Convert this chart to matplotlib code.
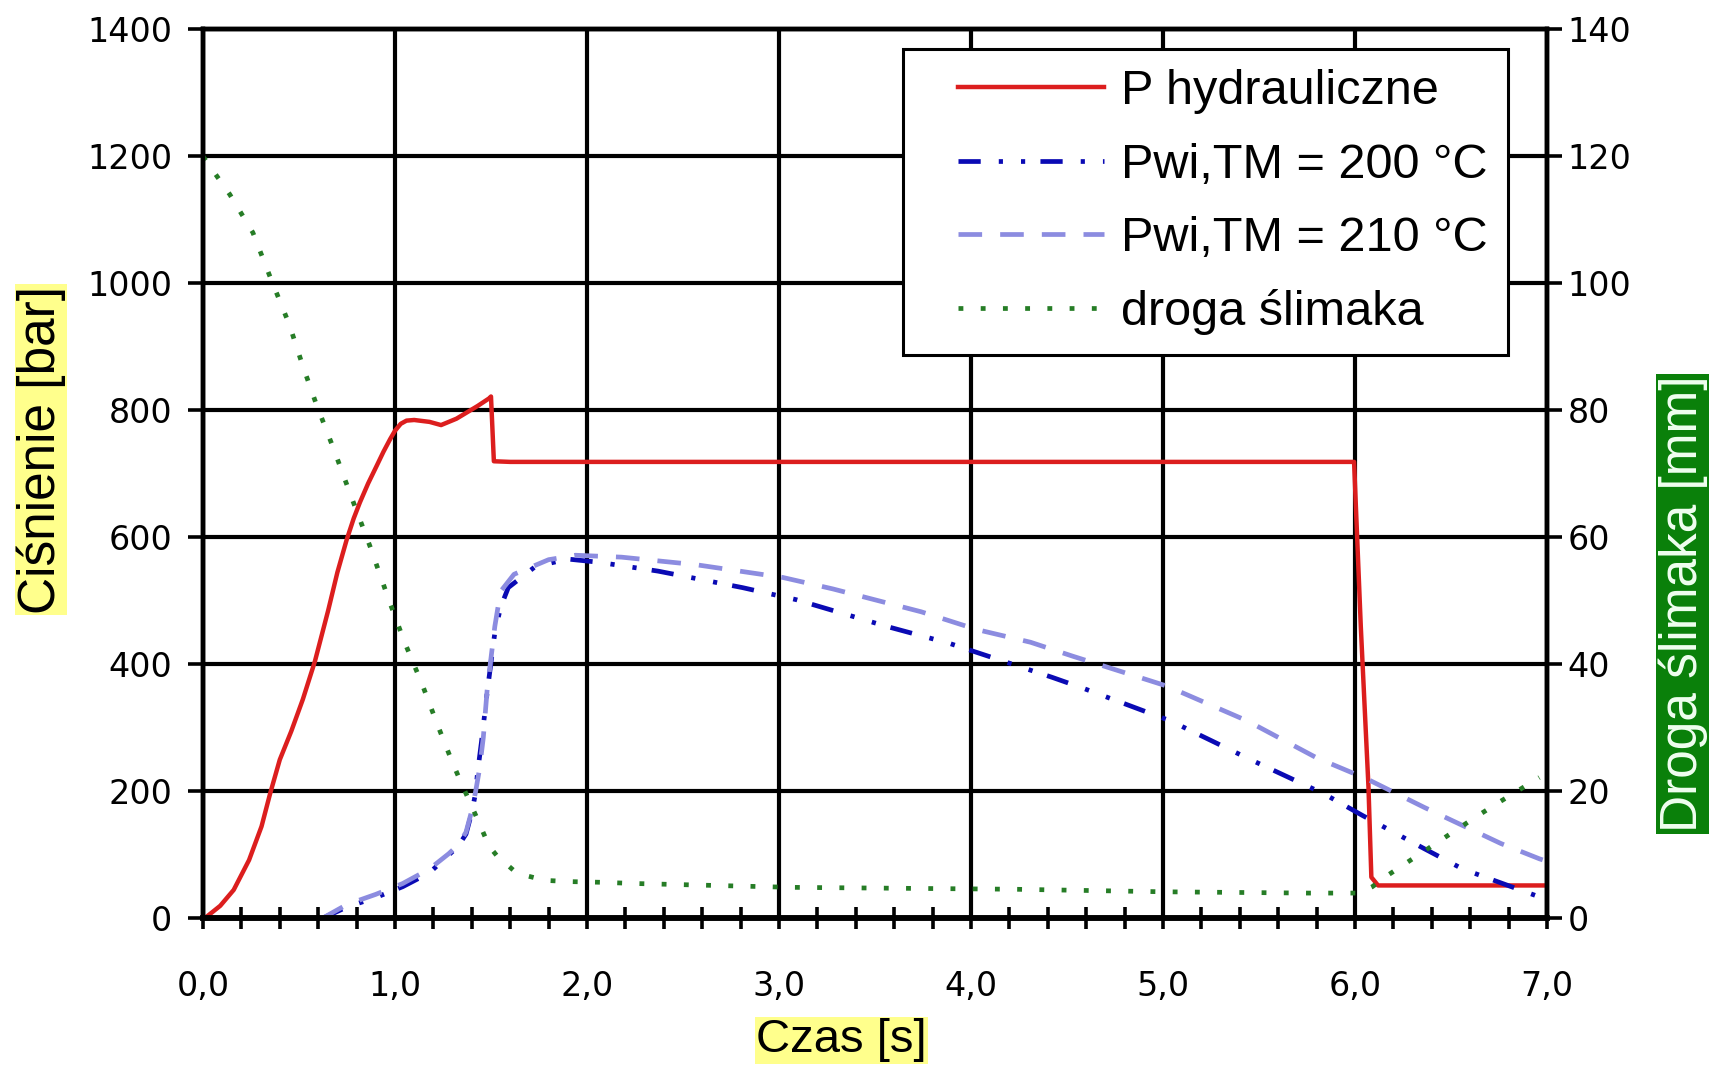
import numpy as np
import matplotlib.pyplot as plt
from matplotlib import font_manager
from matplotlib.lines import Line2D
from matplotlib.legend_handler import HandlerLine2D

# P hydrauliczne [bar]
t_hyd = [0.0, 0.02, 0.09, 0.16, 0.24, 0.305, 0.35, 0.40, 0.46, 0.52, 0.583, 0.652,
         0.70, 0.748, 0.785, 0.817, 0.86, 0.905, 0.94, 0.975, 1.0, 1.03, 1.06, 1.10,
         1.18, 1.24, 1.32, 1.43, 1.49, 1.50, 1.515, 1.60, 3.0, 5.0, 5.995, 6.03,
         6.07, 6.085, 6.12, 7.0]
p_hyd = [0, 3, 20, 45, 92, 145, 197, 250, 295, 345, 405, 485,
         545, 596, 630, 655, 685, 713, 735, 755, 768, 779, 784, 785,
         782, 777, 787, 807, 819, 822, 720, 719, 719, 719, 719, 460,
         207, 65, 52, 52]

# Pwi, TM = 200 C [bar]
t_200 = [0.62, 0.75, 0.90, 1.04, 1.18, 1.28, 1.33, 1.37, 1.40, 1.42, 1.43, 1.45,
         1.48, 1.50, 1.52, 1.55, 1.59, 1.73, 1.90, 2.06, 2.37, 2.81, 3.09, 3.56,
         3.89, 4.09, 4.42, 4.58, 5.04, 5.45, 5.84, 6.04, 6.36, 6.56, 6.96, 7.0]
p_200 = [0, 18, 33, 50, 72, 100, 114, 133, 167, 198, 230, 277,
         356, 403, 450, 490, 521, 554, 566, 561, 547, 521, 502, 460,
         433, 413, 380, 363, 311, 251, 196, 162, 110, 78, 34, 30]

# Pwi, TM = 210 C [bar]
t_210 = [0.62, 0.75, 0.90, 1.04, 1.18, 1.28, 1.33, 1.37, 1.40, 1.42, 1.44, 1.46,
         1.48, 1.50, 1.52, 1.55, 1.62, 1.80, 1.94, 2.18, 2.57, 3.02, 3.28, 3.74,
         4.03, 4.31, 4.53, 5.02, 5.44, 5.80, 6.06, 6.36, 6.76, 6.96, 7.0]
p_210 = [0, 22, 38, 55, 78, 102, 116, 136, 170, 200, 235, 285,
         360, 410, 460, 515, 542, 565, 572, 569, 557, 537, 519, 483,
         455, 435, 413, 366, 311, 253, 220, 175, 118, 94, 90]

# droga slimaka [mm]
t_scr = [0.0, 0.14, 0.26, 0.35, 0.45, 0.52, 0.59, 0.68, 0.77, 0.87, 0.97, 1.05,
         1.14, 1.22, 1.30, 1.34, 1.43, 1.49, 1.53, 1.63, 1.69, 1.78, 1.92, 2.07,
         2.26, 3.07, 4.23, 5.01, 5.75, 6.02, 6.09, 6.17, 6.26, 6.43, 6.64, 6.75, 6.96]
d_scr = [120, 114, 108, 101, 93.5, 87, 81, 74, 66.6, 58.6, 50, 43.5,
         37, 30.6, 24.5, 21.7, 15.6, 11.4, 9.9, 7.25, 6.7, 6.0, 5.8, 5.7,
         5.5, 4.9, 4.6, 4.2, 4.0, 4.0, 5.0, 6.8, 8.6, 12.0, 16.2, 18.3, 22.2]

x_ticks = [0, 1, 2, 3, 4, 5, 6, 7]
x_labels = ['0,0', '1,0', '2,0', '3,0', '4,0', '5,0', '6,0', '7,0']
y_ticks = [0, 200, 400, 600, 800, 1000, 1200, 1400]
y2_ticks = [0, 20, 40, 60, 80, 100, 120, 140]

labels = ['P hydrauliczne', 'Pwi,TM = 200 °C', 'Pwi,TM = 210 °C', 'droga ślimaka']

plt.rcParams['lines.scale_dashes'] = False
plt.rcParams['font.family'] = 'DejaVu Sans'
names = {f.name for f in font_manager.fontManager.ttflist}
lab_font = 'Liberation Sans' if 'Liberation Sans' in names else 'DejaVu Sans'

fig = plt.figure(figsize=(17.1, 10.67), dpi=100)
ax = fig.add_axes([0.1187, 0.1392, 0.786, 0.8332])
ax2 = ax.twinx()

l1, = ax.plot(t_hyd, p_hyd, color='#dc1e1e', lw=3.2, solid_joinstyle='round')
l2, = ax.plot(t_200, p_200, color='#0a0ab4', lw=3.4, dashes=(16, 13, 3, 13, 3, 11))
l3, = ax.plot(t_210, p_210, color='#8c8ce0', lw=3.4, dashes=(17, 13))
l4, = ax2.plot(t_scr, d_scr, color='#267d26', lw=3.4, dashes=(3.5, 12.5))

ax.set_xlim(0, 7)
ax.set_ylim(0, 1400)
ax2.set_ylim(0, 140)

ax.set_xticks(x_ticks)
ax.set_xticklabels(x_labels)
ax.set_xticks(np.arange(0, 7.01, 0.2), minor=True)
ax.set_yticks(y_ticks)
ax2.set_yticks(y2_ticks)

ax.tick_params(axis='x', which='both', direction='inout', length=16, width=2.6,
               pad=29, labelsize=24)
ax.tick_params(axis='y', direction='inout', length=22, width=2.6, pad=11, labelsize=24)
ax2.tick_params(axis='y', direction='inout', length=22, width=2.6, pad=4, labelsize=24)

ax.grid(True, which='major', color='black', lw=3.0)
for a in (ax, ax2):
    for sp in a.spines.values():
        sp.set_linewidth(3.2)
    a.spines['bottom'].set_linewidth(4)

ax.set_xlabel('Czas [s]', family=lab_font, fontsize=34, ha='center', va='center',
              bbox=dict(facecolor='#ffff8c', edgecolor='none', pad=1))
ax.xaxis.set_label_coords(0.475, -0.137)
ax.set_ylabel('Ciśnienie [bar]', family=lab_font, fontsize=37, ha='center', va='center',
              bbox=dict(facecolor='#ffff8c', edgecolor='none', pad=1))
ax.yaxis.set_label_coords(-0.1205, 0.527)
ax2.set_ylabel('Droga ślimaka [mm]', family=lab_font, fontsize=37, color='#f0fff0',
               rotation=90, ha='center', va='center',
               bbox=dict(facecolor='#0a800a', edgecolor='none', pad=1))
ax2.yaxis.set_label_coords(1.101, 0.354)

leg = ax2.legend([l1, l2, l3, l4], labels, loc='upper right',
                 bbox_to_anchor=(0.971, 0.978), borderaxespad=0,
                 prop={'family': lab_font, 'size': 35}, handlelength=3.72,
                 handletextpad=0.35, labelspacing=0.58, borderpad=0.42,
                 fancybox=False, framealpha=1, edgecolor='black',
                 handler_map={Line2D: HandlerLine2D(xpad=0.72)})
leg.get_frame().set_linewidth(2.2)

fig.savefig('out.png', dpi=100)
